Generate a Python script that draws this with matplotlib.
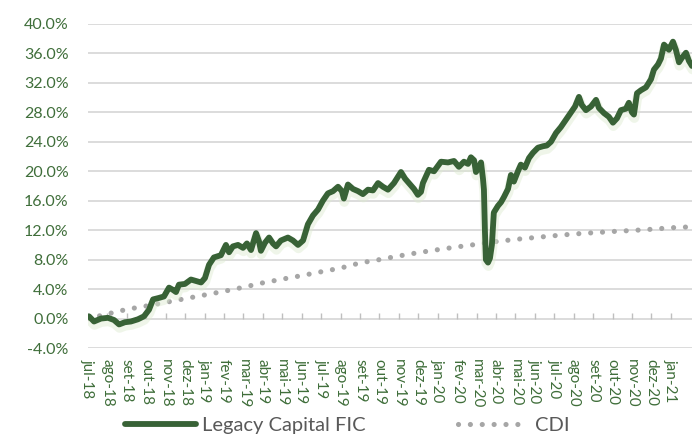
import matplotlib
matplotlib.use("Agg")
import matplotlib.pyplot as plt
import matplotlib.patheffects as pe
from matplotlib.ticker import FuncFormatter, MultipleLocator

plt.rcParams['font.family'] = ['Lato', 'DejaVu Sans']

# x positions in months since jul-18 start
fic_months = [0.05, 0.31, 0.67, 1.03, 1.34, 1.6, 1.9, 2.21, 2.57, 2.88, 3.14, 3.35, 3.65, 3.91,
              4.17, 4.37, 4.53, 4.68, 4.99, 5.3, 5.56, 5.82, 6.02, 6.23, 6.48, 6.84, 7.1, 7.26,
              7.46, 7.72, 7.98, 8.18, 8.39, 8.65, 8.8, 8.9, 9.11, 9.32, 9.52, 9.68, 9.93, 10.29,
              10.55, 10.81, 11.07, 11.32, 11.58, 11.84, 12.09, 12.35, 12.61, 12.87, 13.07, 13.17,
              13.38, 13.64, 13.9, 14.15, 14.41, 14.67, 14.93, 15.18, 15.44, 15.75, 16.11, 16.32,
              16.52, 16.78, 16.98, 17.14, 17.24, 17.55, 17.81, 18.17, 18.53, 18.84, 19.09, 19.35,
              19.56, 19.71, 19.87, 19.97, 20.12, 20.23, 20.33, 20.38, 20.43, 20.48, 20.59, 20.69,
              20.79, 20.89, 21.1, 21.26, 21.41, 21.62, 21.77, 21.92, 22.13, 22.28, 22.49, 22.7,
              22.9, 23.16, 23.42, 23.62, 23.83, 24.09, 24.34, 24.6, 24.86, 25.07, 25.27, 25.42,
              25.63, 25.89, 26.15, 26.3, 26.56, 26.81, 27.02, 27.23, 27.43, 27.69, 27.84, 28.0,
              28.1, 28.26, 28.46, 28.72, 28.98, 29.13, 29.34, 29.49, 29.65, 29.8, 29.9, 30.11,
              30.26, 30.42, 30.57, 30.78, 30.93, 31.09]
fic_values = [0.3, -0.4, 0.0, 0.1, -0.2, -0.8, -0.5, -0.4, -0.1, 0.3, 1.2, 2.6, 2.8, 3.0,
              4.2, 3.9, 3.6, 4.6, 4.7, 5.3, 5.1, 4.9, 5.5, 7.3, 8.3, 8.6, 10.0, 9.0,
              9.8, 10.0, 9.6, 10.2, 9.3, 11.6, 10.5, 9.2, 10.3, 11.0, 10.2, 9.8, 10.6, 11.0,
              10.6, 10.0, 10.6, 12.8, 14.0, 14.8, 16.0, 17.0, 17.3, 17.9, 17.3, 16.3,
              18.2, 17.6, 17.3, 16.9, 17.5, 17.4, 18.4, 17.9, 17.5, 18.4, 19.9, 19.0,
              18.4, 17.6, 16.8, 17.2, 18.4, 20.2, 20.0, 21.3, 21.2, 21.4, 20.6, 21.3,
              21.0, 21.9, 21.5, 19.9, 20.6, 21.2, 19.0, 17.5, 12.0, 8.0, 7.6, 8.2,
              10.0, 14.4, 15.3, 15.8, 16.5, 17.6, 19.5, 18.6, 20.0, 20.9, 20.5, 21.8,
              22.5, 23.2, 23.4, 23.5, 24.0, 25.2, 26.0, 27.0, 28.0, 28.8, 30.1, 29.0,
              28.3, 28.8, 29.7, 28.6, 27.9, 27.4, 26.6, 27.2, 28.3, 28.5, 29.3, 28.0,
              27.7, 30.6, 31.0, 31.4, 32.5, 33.8, 34.5, 35.3, 37.2, 36.8, 36.5, 37.6,
              36.5, 34.8, 35.4, 36.1, 35.0, 34.3]

cdi_months = list(range(32))
cdi_values = [0.0, 0.62, 1.25, 1.7, 2.2, 2.7, 3.2, 3.7, 4.25, 4.85, 5.35, 5.83, 6.35, 6.85,
              7.55, 8.0, 8.5, 8.95, 9.35, 9.73, 10.08, 10.45, 10.75, 11.0, 11.25, 11.48,
              11.65, 11.82, 11.96, 12.12, 12.33, 12.45]

month_labels = ['jul-18', 'ago-18', 'set-18', 'out-18', 'nov-18', 'dez-18',
                'jan-19', 'fev-19', 'mar-19', 'abr-19', 'mai-19', 'jun-19',
                'jul-19', 'ago-19', 'set-19', 'out-19', 'nov-19', 'dez-19',
                'jan-20', 'fev-20', 'mar-20', 'abr-20', 'mai-20', 'jun-20',
                'jul-20', 'ago-20', 'set-20', 'out-20', 'nov-20', 'dez-20', 'jan-21']

green = '#386236'
label_green = '#3f6e3a'
grid_grey = '#d9d9d9'

fig = plt.figure(figsize=(6.92, 4.37), dpi=100)
ax = fig.add_axes([88/692, 1 - 348/437, 1 - 88/692, (348 - 24)/437])

ax.set_ylim(-4, 40)
ax.set_xlim(0, 31.09)
ax.yaxis.set_major_locator(MultipleLocator(4))
ax.yaxis.set_major_formatter(FuncFormatter(lambda v, p: f"{v:.1f}%"))
ax.grid(axis='y', color=grid_grey, linewidth=1.3)
ax.set_axisbelow(True)
for s in ax.spines.values():
    s.set_visible(False)

# zero line tick marks
ax.vlines(range(len(month_labels)), 0, 0.7, color='#bfbfbf', linewidth=1.0, zorder=1)

ax.set_xticks(range(len(month_labels)))
ax.set_xticklabels(month_labels, rotation=270, fontsize=11, color=label_green)
ax.tick_params(axis='x', length=0, pad=8)
ax.tick_params(axis='y', length=0, pad=14, labelsize=11.5, labelcolor=label_green)

ax.plot(cdi_months, cdi_values, color='#a6a6a6', linewidth=3.7,
        linestyle=(0, (0.01, 2.3)), dash_capstyle='round', label='CDI', zorder=2)
ax.plot(fic_months, fic_values, color=green, linewidth=4.2, solid_joinstyle='round',
        solid_capstyle='round', label='Legacy Capital FIC', zorder=3,
        path_effects=[pe.SimpleLineShadow(offset=(0.3, -2.5), shadow_color='#dcebcf',
                                          alpha=0.45, linewidth=7), pe.Normal()])

handles, labels = ax.get_legend_handles_labels()
order = [1, 0]
leg = fig.legend([handles[i] for i in order], [labels[i] for i in order],
                 loc='center', bbox_to_anchor=(0.502, 0.027), ncol=2, frameon=False,
                 fontsize=14.5, handlelength=3.5, columnspacing=4.6, handletextpad=0.3,
                 borderpad=0.0)
for t in leg.get_texts():
    t.set_color('#595959')
for h in leg.legend_handles:
    h.set_path_effects([])

fig.savefig('out.png', dpi=100)
